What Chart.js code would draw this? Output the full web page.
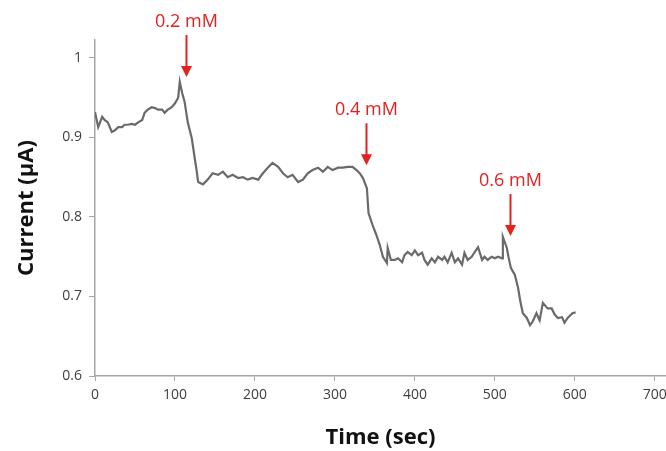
<!DOCTYPE html>
<html>
<head>
<meta charset="utf-8">
<script src="https://cdn.jsdelivr.net/npm/chart.js@4/dist/chart.umd.min.js"></script>
<style>
html,body{margin:0;padding:0;background:#fff;}
#wrap{width:666px;height:451px;position:relative;}
</style>
</head>
<body>
<div id="wrap"><canvas id="c" width="666" height="451"></canvas></div>
<script>
// ---- data ----
const times = [0,4,9,12,16,21,25,29,34,37,41,46,50,54,59,62,66,71,75,79,84,87,91,96,100,104,106,109,112,116,121,125,127,129,135,141,147,154,160,166,172,179,185,191,197,204,210,216,222,229,235,241,247,254,260,266,272,279,285,291,297,304,310,316,322,327,331,335,340,342,347,352,356,360,365,366,370,375,379,384,387,391,396,400,404,409,412,416,421,425,429,434,437,441,446,450,454,459,462,466,471,475,479,484,487,491,496,500,504,509,510,515,517,520,525,529,532,535,540,544,547,552,556,560,566,571,575,579,584,587,591,597,601];
const currents = [0.932,0.913,0.926,0.922,0.919,0.907,0.909,0.913,0.913,0.916,0.916,0.917,0.916,0.919,0.922,0.931,0.935,0.938,0.937,0.935,0.935,0.931,0.935,0.938,0.943,0.950,0.970,0.956,0.945,0.919,0.899,0.872,0.859,0.844,0.841,0.847,0.855,0.853,0.857,0.850,0.853,0.849,0.850,0.847,0.849,0.847,0.855,0.862,0.868,0.863,0.855,0.850,0.853,0.844,0.847,0.855,0.859,0.862,0.857,0.863,0.859,0.862,0.862,0.863,0.863,0.859,0.855,0.849,0.836,0.805,0.790,0.777,0.765,0.750,0.742,0.761,0.746,0.746,0.748,0.743,0.752,0.756,0.752,0.758,0.752,0.755,0.746,0.740,0.748,0.743,0.750,0.746,0.750,0.743,0.755,0.743,0.748,0.740,0.755,0.746,0.750,0.756,0.762,0.746,0.750,0.746,0.750,0.748,0.750,0.748,0.775,0.761,0.750,0.736,0.727,0.711,0.693,0.679,0.673,0.664,0.668,0.679,0.670,0.692,0.685,0.685,0.677,0.673,0.674,0.667,0.673,0.679,0.680];
const xTicks = [0,100,200,300,400,500,600,700];
const yTicks = [0.6,0.7,0.8,0.9,1];
const annotationLabels = ["0.2 mM","0.4 mM","0.6 mM"];
const annotationTimes = [114,339,519];
const annotationCurrents = [0.976,0.865,0.776];
const xTitle = "Time (sec)";
const yTitle = "Current (\u03bcA)";

const points = times.map((t,i)=>({x:t,y:currents[i]}));

const arrowPlugin = {
  id:'arrows',
  afterDatasetsDraw(chart){
    const ctx = chart.ctx, xs = chart.scales.x, ys = chart.scales.y;
    const red = '#e3221f';
    ctx.save();
    annotationLabels.forEach((lab,i)=>{
      const px = Math.round(xs.getPixelForValue(annotationTimes[i]))+0.5;
      const py = ys.getPixelForValue(annotationCurrents[i]);
      const len = 42;
      ctx.strokeStyle = red; ctx.fillStyle = red; ctx.lineWidth = 2;
      ctx.beginPath(); ctx.moveTo(px, py-len); ctx.lineTo(px, py-8); ctx.stroke();
      ctx.beginPath(); ctx.moveTo(px-5.5, py-11); ctx.lineTo(px+5.5, py-11); ctx.lineTo(px, py); ctx.closePath(); ctx.fill();
      ctx.font = '18px "Open Sans", sans-serif';
      ctx.textAlign = 'center'; ctx.textBaseline = 'middle';
      ctx.fillText(lab, px, py-len-13);
    });
    ctx.restore();
  }
};

new Chart(document.getElementById('c'), {
  type:'line',
  data:{datasets:[{data:points,borderColor:'#6a6a6a',borderWidth:2.2,pointRadius:0,tension:0,fill:false}]},
  options:{
    responsive:false, animation:false,
    layout:{padding:{top:40,right:0,left:0,bottom:0}},
    plugins:{legend:{display:false},tooltip:{enabled:false}},
    scales:{
      x:{type:'linear',min:0,max:714,
        afterBuildTicks(s){s.ticks = xTicks.map(v=>({value:v}));},
        afterFit(s){s.height = 75; s.paddingRight = 0; s.paddingLeft = 0;},
        grid:{display:true,drawOnChartArea:false,drawTicks:true,tickLength:5,color:'#a6a6a6',lineWidth:1},
        border:{color:'#a6a6a6',width:1.5},
        ticks:{autoSkip:false,maxRotation:0,padding:6,color:'#404040',font:{family:'"Open Sans", sans-serif',size:14},callback:(v)=>String(v)},
        title:{display:true,text:xTitle,color:'#111',font:{family:'"Open Sans", sans-serif',size:22,weight:'bold'},padding:{top:8,bottom:0}}
      },
      y:{type:'linear',min:0.6,max:1.0226,
        afterBuildTicks(s){s.ticks = yTicks.map(v=>({value:v}));},
        afterFit(s){s.width = 95; s.paddingTop = 0; s.paddingBottom = 0;},
        grid:{display:true,drawOnChartArea:false,drawTicks:true,tickLength:6,color:'#a6a6a6',lineWidth:1},
        border:{color:'#a6a6a6',width:1.5},
        ticks:{autoSkip:false,padding:7,color:'#404040',font:{family:'"Open Sans", sans-serif',size:14},callback:(v)=>String(v)},
        title:{display:true,text:yTitle,color:'#111',font:{family:'"Open Sans", sans-serif',size:22,weight:'bold'},padding:{top:14,bottom:0}}
      }
    }
  },
  plugins:[arrowPlugin]
});
</script>
</body>
</html>
